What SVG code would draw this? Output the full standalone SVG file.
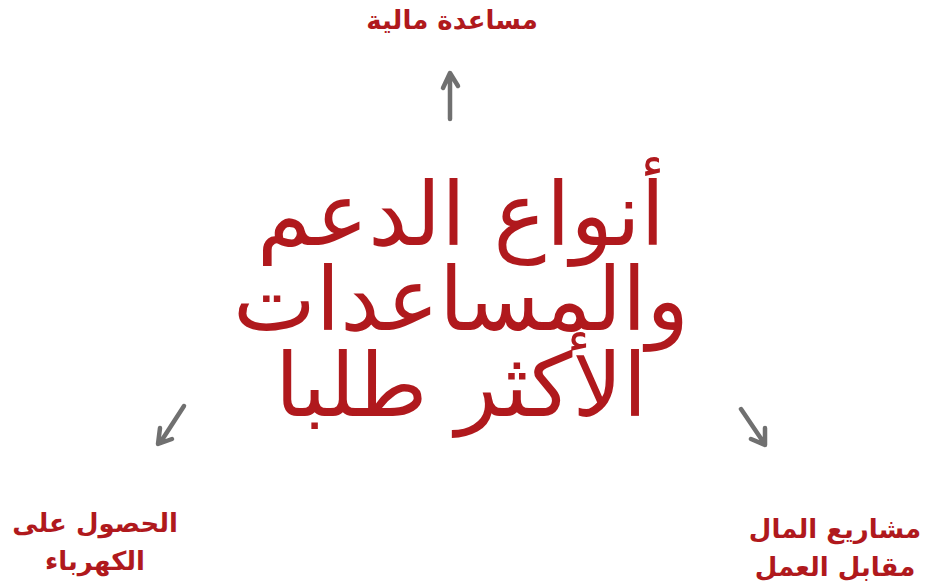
<svg xmlns="http://www.w3.org/2000/svg" width="928" height="588" viewBox="0 0 928 588">
<style>
.t{font-family:"DejaVu Sans","Noto Sans",sans-serif;fill:#b0191d;text-anchor:middle;direction:rtl}
.big{font-size:88px}
.lbl{font-size:26px;font-weight:bold}
.arr{fill:none;stroke:#707070;stroke-width:4.5;stroke-linecap:round;stroke-linejoin:round}
</style>
<rect width="928" height="588" fill="#fff"/>
<g id="center"><text class="t big" x="461" y="245">أنواع الدعم</text><text class="t big" x="461" y="330">والمساعدات</text><text class="t big" x="461" y="416">الأكثر طلبا</text></g>
<g id="n-top"><text class="t lbl" x="452" y="29">مساعدة مالية</text></g>
<g id="n-left"><text class="t lbl" x="95" y="532">الحصول على</text><text class="t lbl" x="95" y="570">الكهرباء</text></g>
<g id="n-right"><text class="t lbl" x="835" y="538">مشاريع المال</text><text class="t lbl" x="835" y="576">مقابل العمل</text></g>
<g id="connectors">
<path class="arr" d="M450 119 L450 74 M443 88 L450 73 L458 86"/>
<path class="arr" d="M184 406 L160 443 M160 428 L158 444 L172 439"/>
<path class="arr" d="M741 409 L764 443 M765 428 L765 445 L751 439"/>
</g>
</svg>
